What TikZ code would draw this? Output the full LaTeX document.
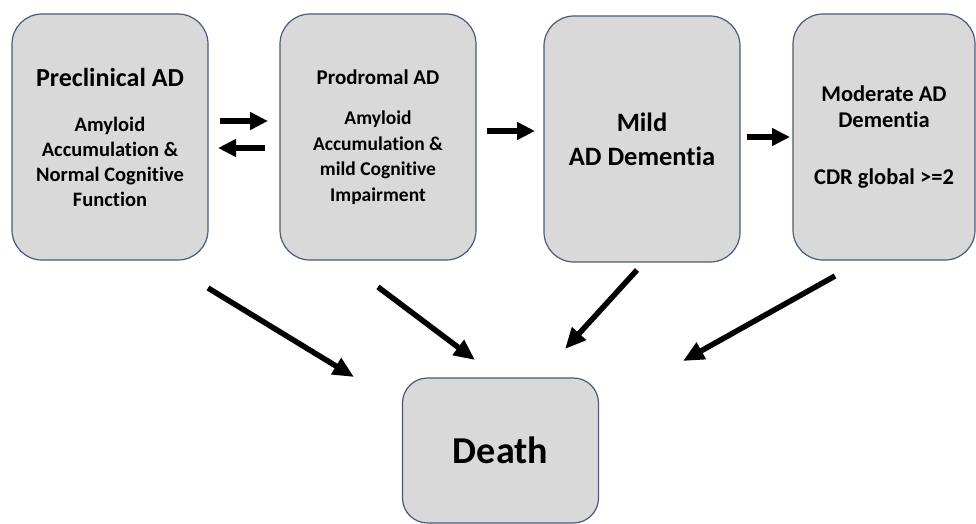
\documentclass[tikz,border=0pt]{standalone}
\usepackage{fontspec}
\setmainfont{Carlito}[Ligatures=NoCommon]
\usetikzlibrary{arrows.meta}
\definecolor{boxfill}{HTML}{D9D9D9}
\definecolor{boxline}{HTML}{4A5A78}

\begin{document}
\begin{tikzpicture}[x=1pt,y=-1pt,
    stage/.style={draw=boxline, fill=boxfill, line width=1.2pt, rounded corners=30pt,
                  align=center, inner sep=0pt, minimum width=196pt, minimum height=246pt},
    flow/.style={line width=5.5pt, -{Triangle[length=18pt,width=17pt]}},
    fall/.style={line width=5.5pt, -{Triangle[length=21pt,width=18pt]}}]
     \useasboundingbox (0,0) rectangle (976,524);
     % stages
     \node[stage, font=\bfseries\fontsize{20.5}{25}\selectfont] (pre) at (110,137)
          {{\fontsize{26}{31}\selectfont Preclinical AD}\\[20pt]Amyloid\\Accumulation \&\\Normal Cognitive\\Function};
     \node[stage, font=\bfseries\fontsize{19.5}{25.5}\selectfont] (pro) at (378,137)
          {{\fontsize{21}{25}\selectfont Prodromal AD}\\[15pt]Amyloid\\Accumulation \&\\mild Cognitive\\Impairment};
     \node[stage, font=\bfseries\fontsize{26.5}{34}\selectfont] (mild) at (642,139)
          {Mild\\AD Dementia};
     \node[stage, minimum width=182pt, font=\bfseries\fontsize{22.5}{26.5}\selectfont] (mod) at (884,137)
          {Moderate AD\\Dementia\\[30pt]CDR global >=2};
     \node[stage, minimum width=196pt, minimum height=145pt, rounded corners=25pt,
           font=\bfseries\fontsize{38}{42}\selectfont] (death) at (500.5,450.5) {Death};
     % arrow ends
     \coordinate (a1) at (220,121);  \coordinate (b1) at (268,121);
     \coordinate (a2) at (265,148);  \coordinate (b2) at (218,148);
     \coordinate (a3) at (487,131);  \coordinate (b3) at (535,131);
     \coordinate (a4) at (747,137);  \coordinate (b4) at (790,137);
     \coordinate (d1) at (208,288);  \coordinate (e1) at (354,377);
     \coordinate (d2) at (378,287);  \coordinate (e2) at (475,360);
     \coordinate (d3) at (637,270);  \coordinate (e3) at (565,349);
     \coordinate (d4) at (835,276);  \coordinate (e4) at (683,361);
     % progression
     \draw[flow] (a1) -- (b1);
     \draw[flow] (a2) -- (b2);
     \draw[flow] (a3) -- (b3);
     \draw[flow] (a4) -- (b4);
     % death
     \draw[fall] (d1) -- (e1);
     \draw[fall] (d2) -- (e2);
     \draw[fall] (d3) -- (e3);
     \draw[fall] (d4) -- (e4);
\end{tikzpicture}
\end{document}
